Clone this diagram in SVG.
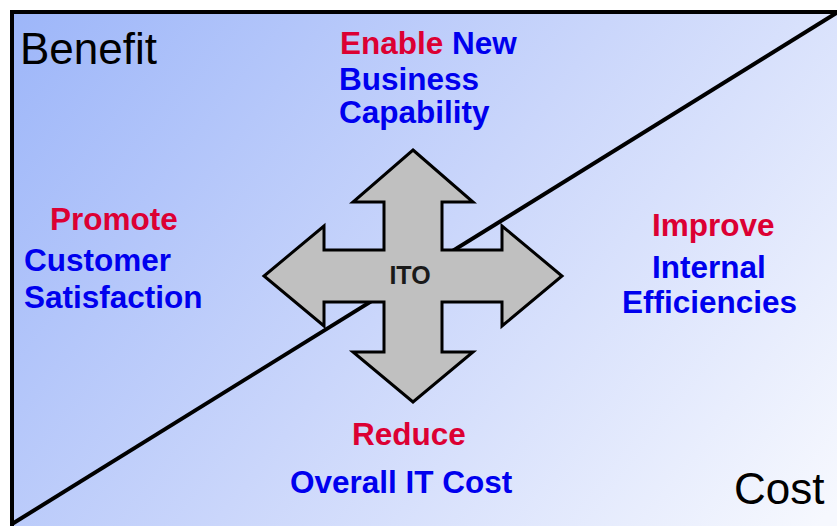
<svg xmlns="http://www.w3.org/2000/svg" width="837" height="526" viewBox="0 0 837 526">
<defs>
<linearGradient id="bg" gradientUnits="userSpaceOnUse" x1="12" y1="12" x2="760" y2="600">
<stop offset="0" stop-color="#9db6f9"/>
<stop offset="0.5" stop-color="#cad6fb"/>
<stop offset="1" stop-color="#f6f8fe"/>
</linearGradient>
<style>
.lbl{font-family:"Liberation Sans",Arial,sans-serif;font-weight:bold;font-size:31.5px}
.red{fill:#dc0033}
.blue{fill:#0000ee}
.big{font-family:"Liberation Sans",Arial,sans-serif;font-size:44px;fill:#000}
</style>
</defs>
<g id="background">
<rect x="12" y="12" width="840" height="530" fill="url(#bg)" stroke="#000" stroke-width="4"/>
</g>
<g id="connectors">
<line x1="12" y1="524" x2="838" y2="12" stroke="#000" stroke-width="4"/>
</g>
<g id="ito">
<polygon points="413,150 473,202 442,202 442,250 502,250 502,226 562,276 502,326 502,302 442,302 442,352 473,352 413,402 353,352 384,352 384,302 324,302 324,326 264,276 324,226 324,250 384,250 384,202 353,202" fill="#c0c0c0" stroke="#000" stroke-width="3" stroke-linejoin="miter"/>
<text x="410" y="284" text-anchor="middle" font-family="Liberation Sans, Arial, sans-serif" font-weight="bold" font-size="25" fill="#1a1a1a">ITO</text>
</g>
<g id="benefit"><text class="big" x="20" y="64">Benefit</text></g>
<g id="cost"><text class="big" x="734" y="504">Cost</text></g>
<g id="enable">
<text class="lbl" x="340" y="54"><tspan class="red">Enable</tspan><tspan class="blue"> New</tspan></text>
<text class="lbl blue" x="339" y="90">Business</text>
<text class="lbl blue" x="339" y="123">Capability</text>
</g>
<g id="promote">
<text class="lbl red" x="50" y="230">Promote</text>
<text class="lbl blue" x="24" y="271">Customer</text>
<text class="lbl blue" x="24" y="308">Satisfaction</text>
</g>
<g id="improve">
<text class="lbl red" x="652" y="236">Improve</text>
<text class="lbl blue" x="652" y="278">Internal</text>
<text class="lbl blue" x="622" y="313">Efficiencies</text>
</g>
<g id="reduce">
<text class="lbl red" x="352" y="445">Reduce</text>
<text class="lbl blue" x="290" y="493">Overall IT Cost</text>
</g>
</svg>
